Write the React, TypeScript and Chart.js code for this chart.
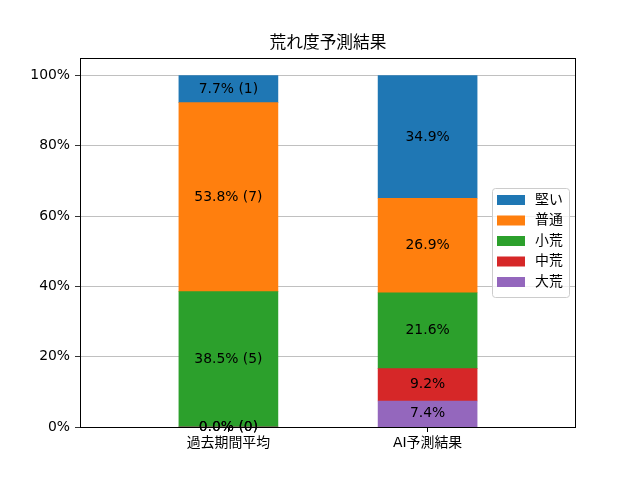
import { useEffect, useRef } from "react";
import { Chart, registerables, Plugin } from "chart.js";

Chart.register(...registerables);

const groups = ["過去期間平均", "AI予測結果"];
const levels = ["堅い", "普通", "小荒", "中荒", "大荒"];
const colors = ["#1f77b4", "#ff7f0e", "#2ca02c", "#d62728", "#9467bd"];

// percentages per level, order as in levels
const pastPct = [7.7, 53.8, 38.5, 0.0, 0.0];
const pastCount = [1, 7, 5, 0, 0];
const aiPct = [34.9, 26.9, 21.6, 9.2, 7.4];

const yTicks = [0, 20, 40, 60, 80, 100];

const FONT = "'DejaVu Sans', 'Noto Sans CJK JP', sans-serif";
const FS = 13.9;

const framePlugin: Plugin = {
  id: "frame",
  afterDatasetsDraw(chart) {
    const { ctx, chartArea: a } = chart;
    ctx.save();

    // value labels
    ctx.font = `${FS}px ${FONT}`;
    ctx.fillStyle = "#000";
    ctx.textAlign = "center";
    ctx.textBaseline = "middle";
    chart.data.datasets.forEach((ds, i) => {
      const meta = chart.getDatasetMeta(i);
      const labels = (ds as any).valueLabels as string[];
      meta.data.forEach((el, j) => {
        const p = el.getProps(["x", "y", "base"], true) as any;
        ctx.fillText(labels[j], p.x, (p.y + p.base) / 2);
      });
    });

    // axes box
    ctx.strokeStyle = "#000";
    ctx.lineWidth = 1;
    ctx.strokeRect(a.left + 0.5, a.top + 0.5, a.right - a.left - 1, a.bottom - a.top);

    // title
    ctx.font = `16.7px ${FONT}`;
    ctx.fillText("荒れ度予測結果", (a.left + a.right) / 2, 44);

    // legend
    const lx = 492, ly = 188, lw = 77, lh = 109;
    ctx.beginPath();
    ctx.roundRect(lx + 0.5, ly + 0.5, lw, lh, 3);
    ctx.fillStyle = "rgba(255,255,255,0.8)";
    ctx.fill();
    ctx.strokeStyle = "#cccccc";
    ctx.stroke();
    ctx.font = `${FS}px ${FONT}`;
    ctx.textAlign = "left";
    levels.forEach((name, k) => {
      const cy = 200 + k * 20.5;
      ctx.fillStyle = colors[k];
      ctx.fillRect(497, cy - 5, 28, 10);
      ctx.fillStyle = "#000";
      ctx.fillText(name, 535, cy);
    });
    ctx.restore();
  },
};

export default function App() {
  const canvasRef = useRef<HTMLCanvasElement | null>(null);

  useEffect(() => {
    if (!canvasRef.current) return;

    // bottom of the stack first
    const order = [4, 3, 2, 1, 0];
    const datasets = order.map((k) => ({
      label: levels[k],
      data: [
        { x: 0, y: pastPct[k] },
        { x: 1, y: aiPct[k] },
      ],
      backgroundColor: colors[k],
      borderWidth: 0,
      barThickness: 99,
      valueLabels: [
        `${pastPct[k].toFixed(1)}% (${pastCount[k]})`,
        `${aiPct[k].toFixed(1)}%`,
      ],
    }));

    const chart = new Chart(canvasRef.current, {
      type: "bar",
      data: { datasets: datasets as any },
      options: {
        animation: false,
        responsive: false,
        layout: { padding: { left: 0, top: 58, right: 64, bottom: 0 } },
        plugins: {
          legend: { display: false },
          title: { display: false },
          tooltip: { enabled: false },
        },
        scales: {
          x: {
            type: "linear",
            stacked: true,
            offset: false,
            bounds: "data",
            min: -0.745,
            max: 1.745,
            afterDataLimits: (s) => {
              s.min = -0.745;
              s.max = 1.745;
            },
            afterBuildTicks: (s) => {
              s.ticks = [{ value: 0 }, { value: 1 }];
            },
            afterFit: (s) => {
              s.height = 53;
            },
            grid: {
              offset: false,
              drawOnChartArea: false,
              tickColor: "#000",
              tickLength: 5,
            },
            border: { display: false },
            ticks: {
              color: "#000",
              font: { family: FONT, size: FS },
              padding: 3,
              maxRotation: 0,
              autoSkip: false,
              callback: (v) => groups[Number(v)] ?? "",
            },
          },
          y: {
            stacked: true,
            min: 0,
            max: 105,
            afterBuildTicks: (s) => {
              s.ticks = yTicks.map((v) => ({ value: v }));
            },
            afterFit: (s) => {
              s.width = 80;
            },
            grid: {
              color: "#b0b0b0",
              lineWidth: 0.8,
              tickColor: "#000",
              tickLength: 5,
            },
            border: { display: false },
            ticks: {
              color: "#000",
              font: { family: FONT, size: FS },
              padding: 5,
              callback: (v) => `${v}%`,
            },
          },
        },
      },
      plugins: [framePlugin],
    });

    return () => chart.destroy();
  }, []);

  return (
    <div style={{ position: "fixed", left: 0, top: 0, width: 640, height: 480, background: "#fff" }}>
      <canvas ref={canvasRef} width={640} height={480} />
    </div>
  );
}
